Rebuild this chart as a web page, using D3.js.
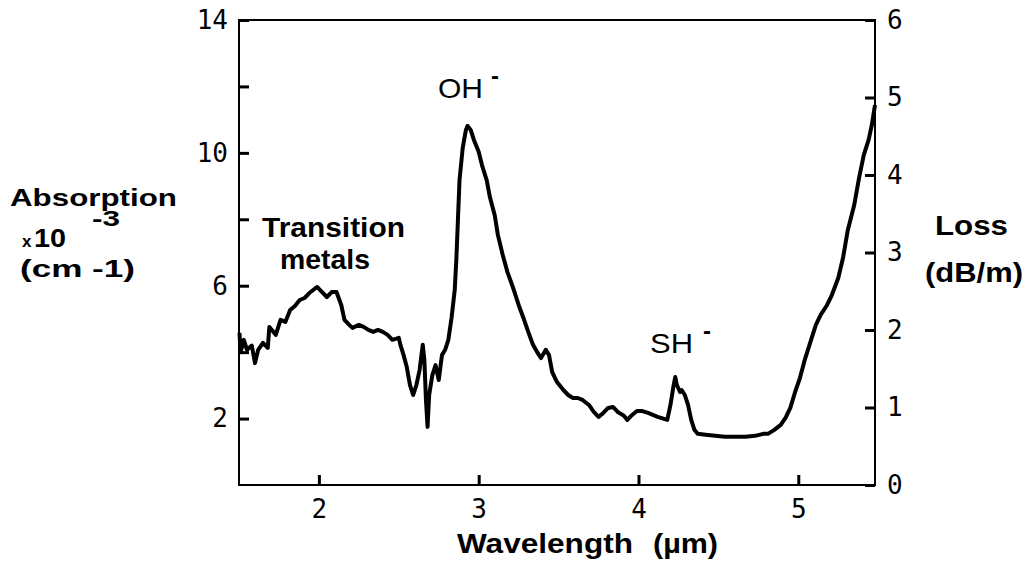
<!DOCTYPE html>
<html>
<head>
<meta charset="utf-8">
<script src="https://cdn.jsdelivr.net/npm/d3@7"></script>
<style>
  body { margin: 0; background: #fff; }
  .tick text { font-family: "DejaVu Sans Mono", monospace; font-size: 26px; fill: #000; }
  .lbl { font-family: "Liberation Sans", Arial, sans-serif; fill: #000; }
</style>
</head>
<body>
<svg width="1031" height="568"></svg>
<script>
// wavelength (µm) and absorption (x10^-3 cm^-1)
const wavelength = [
  1.503, 1.51, 1.53, 1.55, 1.58, 1.60, 1.62, 1.65, 1.68, 1.69, 1.73, 1.76, 1.79, 1.82, 1.85, 1.88, 1.91, 1.94,
  1.98, 1.99, 2.02, 2.05, 2.08, 2.11, 2.14, 2.16, 2.19, 2.21, 2.25, 2.28, 2.31, 2.34, 2.37, 2.40,
  2.43, 2.46, 2.50, 2.51, 2.53, 2.55, 2.57, 2.59, 2.61, 2.63, 2.65, 2.66, 2.67, 2.68, 2.69, 2.71,
  2.73, 2.75, 2.77, 2.79, 2.81, 2.83, 2.85, 2.86, 2.87, 2.88, 2.90, 2.92, 2.93, 2.95, 2.97, 3.00,
  3.02, 3.05, 3.07, 3.10, 3.12, 3.15, 3.18, 3.22, 3.25, 3.28, 3.31, 3.34, 3.37, 3.39, 3.42, 3.44,
  3.46, 3.49, 3.53, 3.56, 3.59, 3.62, 3.65, 3.69, 3.72, 3.75, 3.78, 3.81, 3.84, 3.87, 3.91, 3.93,
  3.96, 3.99, 4.02, 4.06, 4.09, 4.12, 4.16, 4.18, 4.20, 4.22, 4.23, 4.24, 4.26, 4.27, 4.29, 4.31,
  4.33, 4.35, 4.37, 4.42, 4.48, 4.54, 4.61, 4.67, 4.73, 4.78, 4.81, 4.85, 4.89, 4.92, 4.95, 4.98,
  5.01, 5.04, 5.08, 5.11, 5.14, 5.18, 5.21, 5.25, 5.28, 5.31, 5.35, 5.38, 5.41, 5.44, 5.46, 5.48
];
const absorption = [
  4.58, 4.00, 4.37, 4.07, 4.20, 3.67, 4.07, 4.28, 4.13, 4.76, 4.52, 4.97, 4.91, 5.27, 5.39, 5.57, 5.63, 5.78,
  5.93, 5.96, 5.81, 5.66, 5.81, 5.81, 5.42, 4.97, 4.82, 4.73, 4.82, 4.76, 4.67, 4.61, 4.67, 4.61,
  4.52, 4.37, 4.43, 4.22, 3.91, 3.55, 3.01, 2.71, 3.01, 3.46, 4.22, 3.76, 2.56, 1.75, 2.71, 3.31,
  3.61, 3.16, 3.91, 4.07, 4.37, 5.03, 5.87, 6.78, 7.98, 9.18, 10.15, 10.69, 10.81, 10.69, 10.39, 10.03,
  9.64, 9.18, 8.67, 8.13, 7.53, 6.93, 6.41, 5.87, 5.42, 5.03, 4.61, 4.22, 3.97, 3.82, 4.07, 3.91,
  3.40, 3.10, 2.86, 2.71, 2.62, 2.62, 2.56, 2.41, 2.20, 2.05, 2.17, 2.32, 2.35, 2.20, 2.08, 1.96,
  2.11, 2.23, 2.23, 2.17, 2.11, 2.05, 1.99, 1.96, 2.41, 3.01, 3.25, 3.01, 2.80, 2.86, 2.71, 2.41,
  1.96, 1.66, 1.54, 1.51, 1.48, 1.45, 1.45, 1.45, 1.48, 1.54, 1.54, 1.66, 1.81, 2.02, 2.32, 2.80,
  3.22, 3.76, 4.37, 4.82, 5.12, 5.42, 5.72, 6.23, 6.84, 7.68, 8.43, 9.24, 9.94, 10.39, 10.84, 11.44
];

const xTicks = [2, 3, 4, 5];
const leftTicks = [2, 4, 6, 8, 10, 12, 14];
const leftLabelled = [2, 6, 10, 14];
const rightTicks = [0, 1, 2, 3, 4, 5, 6];

const svg = d3.select("svg");
const plot = { left: 239, right: 875, top: 20, bottom: 485 };

const x = d3.scaleLinear().domain([1.5, 5.48]).range([plot.left, plot.right]);
const yL = d3.scaleLinear().domain([0, 14]).range([plot.bottom, plot.top]);
const yR = d3.scaleLinear().domain([0, 6]).range([plot.bottom, plot.top]);
const fmt = d3.format("d");

// frame
svg.append("rect")
    .attr("x", plot.left).attr("y", plot.top)
    .attr("width", plot.right - plot.left).attr("height", plot.bottom - plot.top)
    .attr("fill", "none").attr("stroke", "#000").attr("stroke-width", 2);

const gL = svg.append("g")
    .attr("transform", `translate(${plot.left},0)`)
    .call(d3.axisLeft(yL).tickValues(leftTicks).tickSizeInner(-10).tickSizeOuter(0).tickPadding(11)
        .tickFormat(d => leftLabelled.includes(d) ? fmt(d) : ""));

const gR = svg.append("g")
    .attr("transform", `translate(${plot.right},0)`)
    .call(d3.axisRight(yR).tickValues(rightTicks).tickSizeInner(-10).tickSizeOuter(0).tickPadding(12)
        .tickFormat(fmt));

const gB = svg.append("g")
    .attr("transform", `translate(0,${plot.bottom})`)
    .call(d3.axisBottom(x).tickValues(xTicks).tickSizeInner(-10).tickSizeOuter(0).tickPadding(15)
        .tickFormat(fmt));

[gL, gR, gB].forEach(g => {
    g.select(".domain").remove();
    g.selectAll(".tick line").attr("stroke", "#000").attr("stroke-width", 3);
    g.attr("font-family", null).attr("font-size", null);
});

// spectrum
const line = d3.line()
    .x((d, i) => x(wavelength[i]))
    .y(d => yL(d));

svg.append("path")
    .datum(absorption)
    .attr("d", line)
    .attr("fill", "none")
    .attr("stroke", "#000")
    .attr("stroke-width", 4)
    .attr("stroke-linejoin", "round");

// labels
function label(txt, x0, y0, size, weight, len) {
    const t = svg.append("text")
        .attr("class", "lbl")
        .attr("x", x0).attr("y", y0)
        .attr("font-size", size)
        .attr("font-weight", weight)
        .text(txt);
    if (len) t.attr("textLength", len).attr("lengthAdjust", "spacingAndGlyphs");
    return t;
}

label("Absorption", 10, 206, 24, "bold", 167);
label("x", 22, 247, 17, "bold");
label("10", 34, 247, 25, "bold", 32);
label("-3", 92, 226, 22, "bold", 28);
label("(cm -1)", 20, 277, 24, "bold", 115);

label("Transition", 262, 237, 27, "bold", 143);
label("metals", 280, 269, 27, "bold", 90);

label("OH", 438, 98, 28, "normal", 45);
label("-", 491, 84, 24, "bold");
label("SH", 650, 353, 28, "normal", 43);
label("-", 703, 339, 24, "bold");

label("Loss", 935, 235, 27, "bold", 73);
label("(dB/m)", 925, 282, 27, "bold", 98);

label("Wavelength", 457, 553, 27, "bold", 176);
label("(µm)", 653, 553, 27, "bold", 65);
</script>
</body>
</html>
